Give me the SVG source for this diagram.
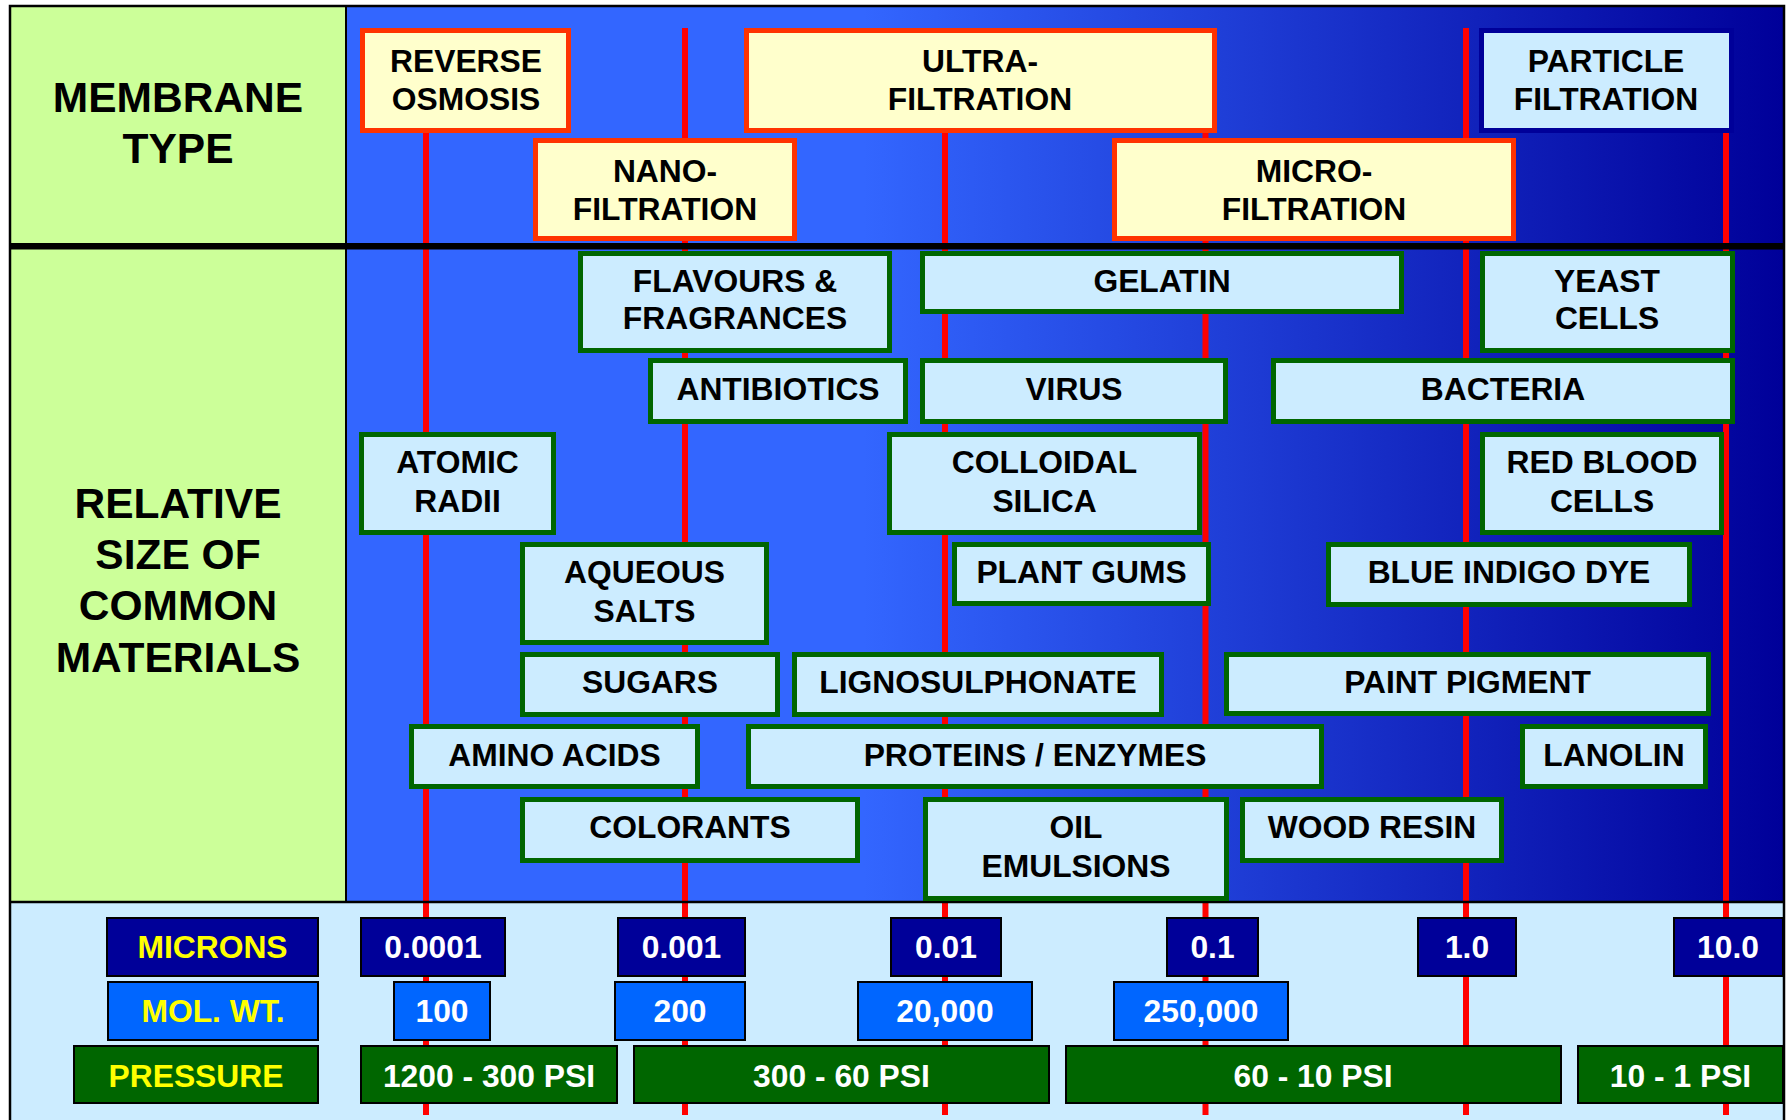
<svg xmlns="http://www.w3.org/2000/svg" width="1788" height="1120" viewBox="0 0 1788 1120">
<defs>
<linearGradient id="bg" gradientUnits="userSpaceOnUse" x1="346" y1="0" x2="1784" y2="0">
<stop offset="0" stop-color="#3366FF"/>
<stop offset="0.36" stop-color="#3366FF"/>
<stop offset="1" stop-color="#000099"/>
</linearGradient>
<style>
.t{font-family:"Liberation Sans",Arial,Helvetica,sans-serif;font-weight:bold;font-size:31.8px;text-anchor:middle;fill:#000}
.h{font-size:42.5px}
.w{fill:#FFFFFF}
.y{fill:#FFFF00}
.mem{fill:#FFFFCC;stroke:#FF3300;stroke-width:5}
.part{fill:#CCECFF;stroke:#000099;stroke-width:5}
.mat{fill:#CCECFF;stroke:#006600;stroke-width:5}
.mic{fill:#000099;stroke:#000;stroke-width:2}
.mol{fill:#0066FF;stroke:#000;stroke-width:2}
.prs{fill:#006600;stroke:#000;stroke-width:2}
.red{stroke:#FF0000;stroke-width:6;fill:none}
</style>
</defs>

<g id="background">
<rect x="10" y="6" width="336" height="896" fill="#CCFF99"/>
<rect x="346" y="6" width="1438" height="896" fill="url(#bg)"/>
<rect x="10" y="902" width="1774" height="220" fill="#CCECFF"/>
</g>

<g id="gridlines">
<line class="red" x1="426" y1="28" x2="426" y2="1115"/>
<line class="red" x1="685" y1="28" x2="685" y2="1115"/>
<line class="red" x1="945" y1="28" x2="945" y2="1115"/>
<line class="red" x1="1205.5" y1="28" x2="1205.5" y2="1115"/>
<line class="red" x1="1466" y1="28" x2="1466" y2="1115"/>
<line class="red" x1="1726" y1="28" x2="1726" y2="1115"/>
</g>

<g id="frame">
<line x1="346" y1="6" x2="346" y2="902" stroke="#000" stroke-width="2"/>
<rect x="10" y="243" width="1774" height="6.5" fill="#000"/>
<line x1="10" y1="902" x2="1784" y2="902" stroke="#000" stroke-width="2.5"/>
<rect x="10" y="6" width="1774" height="1130" fill="none" stroke="#000" stroke-width="2.5"/>
</g>

<g id="label-membrane-type">
<text class="t h" x="178" y="112">MEMBRANE</text>
<text class="t h" x="178" y="163">TYPE</text>
</g>
<g id="label-relative-size">
<text class="t h" x="178" y="518">RELATIVE</text>
<text class="t h" x="178" y="569">SIZE OF</text>
<text class="t h" x="178" y="620">COMMON</text>
<text class="t h" x="178" y="672">MATERIALS</text>
</g>

<g id="reverse-osmosis"><rect class="mem" x="362.5" y="30.5" width="206" height="100"/><text class="t" x="466" y="71.5">REVERSE</text><text class="t" x="466" y="109.5">OSMOSIS</text></g>
<g id="nano-filtration"><rect class="mem" x="535.5" y="140.5" width="259" height="98"/><text class="t" x="665" y="182">NANO-</text><text class="t" x="665" y="220">FILTRATION</text></g>
<g id="ultra-filtration"><rect class="mem" x="746.5" y="30.5" width="468" height="100"/><text class="t" x="980" y="71.5">ULTRA-</text><text class="t" x="980" y="109.5">FILTRATION</text></g>
<g id="micro-filtration"><rect class="mem" x="1114.5" y="140.5" width="399" height="98"/><text class="t" x="1314" y="182">MICRO-</text><text class="t" x="1314" y="220">FILTRATION</text></g>
<g id="particle-filtration"><rect class="part" x="1481.5" y="30.5" width="250" height="100"/><text class="t" x="1606" y="71.5">PARTICLE</text><text class="t" x="1606" y="109.5">FILTRATION</text></g>

<g id="flavours"><rect class="mat" x="580.5" y="253.5" width="309" height="97"/><text class="t" x="735" y="292">FLAVOURS &amp;</text><text class="t" x="735" y="329">FRAGRANCES</text></g>
<g id="gelatin"><rect class="mat" x="922.5" y="253.5" width="479" height="58"/><text class="t" x="1162" y="292">GELATIN</text></g>
<g id="yeast"><rect class="mat" x="1482.5" y="253.5" width="250" height="97"/><text class="t" x="1607" y="292">YEAST</text><text class="t" x="1607" y="329">CELLS</text></g>
<g id="antibiotics"><rect class="mat" x="650.5" y="360.5" width="255" height="61"/><text class="t" x="778" y="400">ANTIBIOTICS</text></g>
<g id="virus"><rect class="mat" x="922.5" y="360.5" width="303" height="61"/><text class="t" x="1074" y="400">VIRUS</text></g>
<g id="bacteria"><rect class="mat" x="1273.5" y="360.5" width="459" height="61"/><text class="t" x="1503" y="400">BACTERIA</text></g>
<g id="atomic-radii"><rect class="mat" x="361.5" y="434.5" width="192" height="98"/><text class="t" x="457.5" y="473">ATOMIC</text><text class="t" x="457.5" y="512">RADII</text></g>
<g id="colloidal-silica"><rect class="mat" x="889.5" y="434.5" width="310" height="98"/><text class="t" x="1044.5" y="473">COLLOIDAL</text><text class="t" x="1044.5" y="512">SILICA</text></g>
<g id="red-blood-cells"><rect class="mat" x="1482.5" y="434.5" width="239" height="98"/><text class="t" x="1602" y="473">RED BLOOD</text><text class="t" x="1602" y="512">CELLS</text></g>
<g id="aqueous-salts"><rect class="mat" x="522.5" y="544.5" width="244" height="98"/><text class="t" x="644.5" y="583">AQUEOUS</text><text class="t" x="644.5" y="622">SALTS</text></g>
<g id="plant-gums"><rect class="mat" x="954.5" y="544.5" width="254" height="59"/><text class="t" x="1081.5" y="583">PLANT GUMS</text></g>
<g id="blue-indigo-dye"><rect class="mat" x="1328.5" y="544.5" width="361" height="60"/><text class="t" x="1509" y="583">BLUE INDIGO DYE</text></g>
<g id="sugars"><rect class="mat" x="522.5" y="654.5" width="255" height="60"/><text class="t" x="650" y="693">SUGARS</text></g>
<g id="lignosulphonate"><rect class="mat" x="794.5" y="654.5" width="367" height="60"/><text class="t" x="978" y="693">LIGNOSULPHONATE</text></g>
<g id="paint-pigment"><rect class="mat" x="1226.5" y="654.5" width="482" height="59"/><text class="t" x="1467.5" y="693">PAINT PIGMENT</text></g>
<g id="amino-acids"><rect class="mat" x="411.5" y="726.5" width="286" height="60"/><text class="t" x="554.5" y="766">AMINO ACIDS</text></g>
<g id="proteins-enzymes"><rect class="mat" x="748.5" y="726.5" width="573" height="60"/><text class="t" x="1035" y="766">PROTEINS / ENZYMES</text></g>
<g id="lanolin"><rect class="mat" x="1522.5" y="726.5" width="183" height="60"/><text class="t" x="1614" y="766">LANOLIN</text></g>
<g id="colorants"><rect class="mat" x="522.5" y="799.5" width="335" height="61"/><text class="t" x="690" y="838">COLORANTS</text></g>
<g id="oil-emulsions"><rect class="mat" x="925.5" y="799.5" width="301" height="99"/><text class="t" x="1076" y="838">OIL</text><text class="t" x="1076" y="877">EMULSIONS</text></g>
<g id="wood-resin"><rect class="mat" x="1242.5" y="799.5" width="259" height="61"/><text class="t" x="1372" y="838">WOOD RESIN</text></g>

<g id="microns-label"><rect class="mic" x="107" y="918" width="211" height="58"/><text class="t y" x="212.5" y="958">MICRONS</text></g>
<g id="m-0.0001"><rect class="mic" x="361" y="918" width="144" height="58"/><text class="t w" x="433" y="958">0.0001</text></g>
<g id="m-0.001"><rect class="mic" x="618" y="918" width="127" height="58"/><text class="t w" x="681.5" y="958">0.001</text></g>
<g id="m-0.01"><rect class="mic" x="891" y="918" width="110" height="58"/><text class="t w" x="946" y="958">0.01</text></g>
<g id="m-0.1"><rect class="mic" x="1167" y="918" width="91" height="58"/><text class="t w" x="1212.5" y="958">0.1</text></g>
<g id="m-1.0"><rect class="mic" x="1418" y="918" width="98" height="58"/><text class="t w" x="1467" y="958">1.0</text></g>
<g id="m-10.0"><rect class="mic" x="1674" y="918" width="109" height="58"/><text class="t w" x="1728" y="958">10.0</text></g>

<g id="molwt-label"><rect class="mol" x="108" y="982" width="210" height="58"/><text class="t y" x="213" y="1022">MOL. WT.</text></g>
<g id="mw-100"><rect class="mol" x="394" y="982" width="96" height="58"/><text class="t w" x="442" y="1022">100</text></g>
<g id="mw-200"><rect class="mol" x="615" y="982" width="130" height="58"/><text class="t w" x="680" y="1022">200</text></g>
<g id="mw-20000"><rect class="mol" x="858" y="982" width="174" height="58"/><text class="t w" x="945" y="1022">20,000</text></g>
<g id="mw-250000"><rect class="mol" x="1114" y="982" width="174" height="58"/><text class="t w" x="1201" y="1022">250,000</text></g>

<g id="pressure-label"><rect class="prs" x="74" y="1046" width="244" height="57"/><text class="t y" x="196" y="1087">PRESSURE</text></g>
<g id="p-1200-300"><rect class="prs" x="361" y="1046" width="256" height="57"/><text class="t w" x="489" y="1087">1200 - 300 PSI</text></g>
<g id="p-300-60"><rect class="prs" x="634" y="1046" width="415" height="57"/><text class="t w" x="841.5" y="1087">300 - 60 PSI</text></g>
<g id="p-60-10"><rect class="prs" x="1066" y="1046" width="495" height="57"/><text class="t w" x="1313" y="1087">60 - 10 PSI</text></g>
<g id="p-10-1"><rect class="prs" x="1578" y="1046" width="205" height="57"/><text class="t w" x="1680.5" y="1087">10 - 1 PSI</text></g>
</svg>
